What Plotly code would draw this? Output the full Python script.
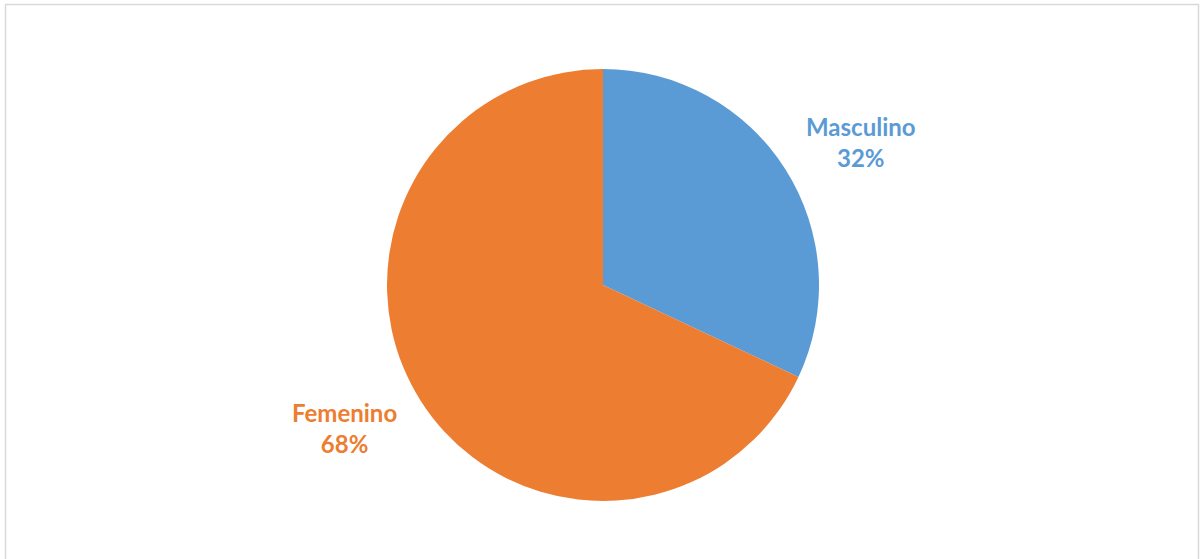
import numpy as np
import plotly.graph_objects as go

labels = ["Masculino", "Femenino"]
values = [32, 68]
colors = ["#5B9BD5", "#ED7D31"]

W, H = 1200, 559
cx, cy, r = 603, 285, 216
label_rx, label_ry = 306, 267

fig = go.Figure(go.Pie(
    labels=labels, values=values, sort=False, direction="clockwise", rotation=0,
    marker=dict(colors=colors, line=dict(color="rgba(0,0,0,0)", width=0)),
    textinfo="none", hoverinfo="label+percent", showlegend=False,
    domain=dict(x=[(cx - r) / W, (cx + r) / W], y=[1 - (cy + r) / H, 1 - (cy - r) / H]),
))

total = sum(values)
cum = 0
annotations = []
for lab, v, c in zip(labels, values, colors):
    mid = (cum + v / 2) / total * 2 * np.pi
    cum += v
    px = cx + label_rx * np.sin(mid)
    py = cy - label_ry * np.cos(mid)
    annotations.append(dict(
        x=px / W, y=1 - py / H, xref="paper", yref="paper", showarrow=False,
        text=f"<b>{lab}<br>{round(v / total * 100)}%</b>",
        font=dict(family="Lato, Open Sans, sans-serif", size=24, color=c),
        xanchor="center", yanchor="middle", align="center",
    ))

fig.update_layout(
    width=W, height=H, margin=dict(l=0, r=0, t=0, b=0),
    paper_bgcolor="white", plot_bgcolor="white",
    annotations=annotations,
    shapes=[dict(type="rect", xref="paper", yref="paper",
                 x0=5.5 / W, x1=1198.5 / W, y0=-0.05, y1=1 - 4.5 / H,
                 line=dict(color="#D9D9D9", width=1.5), fillcolor="rgba(0,0,0,0)")],
)
fig.write_html("out.html", config={"displayModeBar": False},
               post_script="document.body.style.margin='0';document.body.style.overflow='hidden';")
